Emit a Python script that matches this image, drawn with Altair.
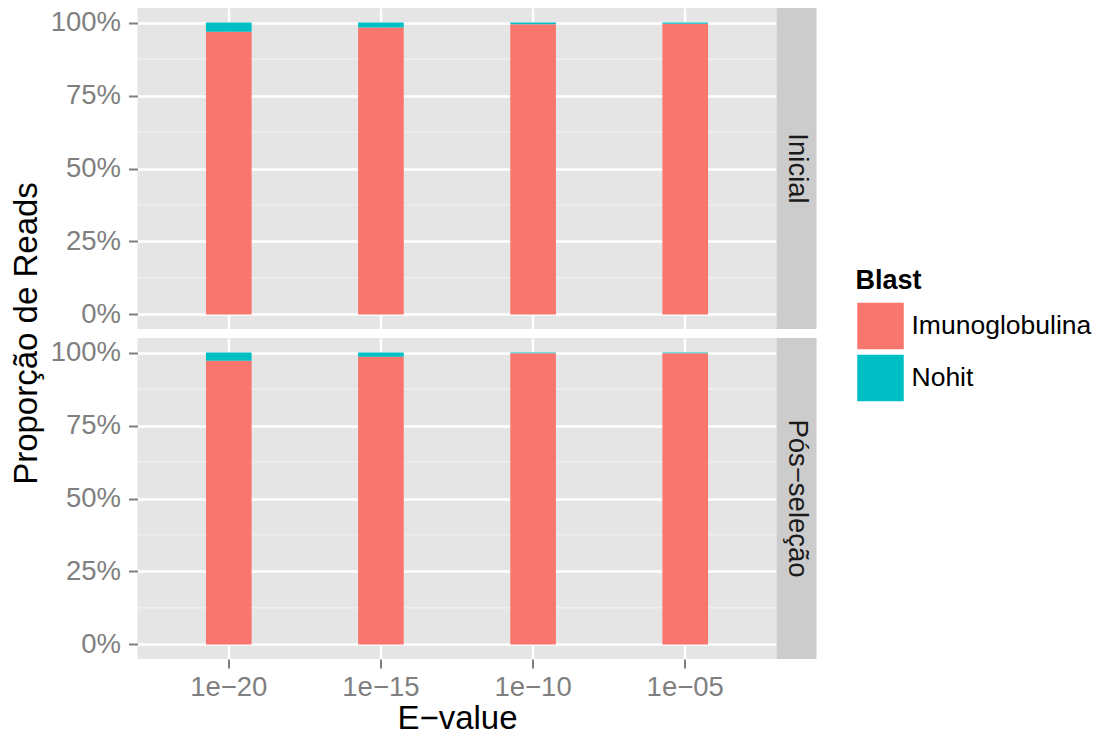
import altair as alt
import pandas as pd

FONT = "Liberation Sans"

evalues = ["1e\u221220", "1e\u221215", "1e\u221210", "1e\u221205"]
panels = ["Inicial", "P\u00f3s\u2212sele\u00e7\u00e3o"]
blast = ["Imunoglobulina", "Nohit"]
colors = ["#F8766D", "#00BFC4"]

imuno_inicial = [0.969, 0.983, 0.994, 0.996]
nohit_inicial = [0.031, 0.017, 0.006, 0.004]
imuno_pos = [0.972, 0.986, 0.998, 0.998]
nohit_pos = [0.028, 0.014, 0.002, 0.002]

y_ticks = [0, 0.25, 0.5, 0.75, 1.0]
y_minor = [0.125, 0.375, 0.625, 0.875]

W, H = 639, 321
STRIP_W = 40
LBL = 27.5
TTL = 33


def panel(name, imuno, nohit, bottom, with_ytitle):
    rows = []
    for e, a, b in zip(evalues, imuno, nohit):
        rows.append({"evalue": e, "blast": blast[0], "prop": a, "ord": 0})
        rows.append({"evalue": e, "blast": blast[1], "prop": b, "ord": 1})
    df = pd.DataFrame(rows)

    yscale = alt.Scale(domain=[-0.05, 1.05], nice=False, zero=False)
    yaxis = alt.Axis(values=y_ticks, format=".0%", title=None, grid=True,
                     labelPadding=8)
    xscale = alt.Scale(domain=evalues, paddingInner=0.7, paddingOuter=0.45)
    if bottom:
        xaxis = alt.Axis(title="E\u2212value", grid=True, bandPosition=0.5,
                         labelAngle=0, labelPadding=5, titlePadding=2,
                         titleFontSize=TTL, titleFont=FONT, titleColor="black",
                         titleFontWeight="normal")
    else:
        xaxis = alt.Axis(title=None, grid=True, bandPosition=0.5, labels=False,
                         ticks=False, domain=False)

    minor = alt.Chart(pd.DataFrame({"v": y_minor})).mark_rule(
        color="#F2F2F2", strokeWidth=1.2
    ).encode(y=alt.Y("v:Q", scale=yscale, axis=yaxis))

    bars = alt.Chart(df).mark_bar().encode(
        x=alt.X("evalue:N", sort=evalues, scale=xscale, axis=xaxis),
        y=alt.Y("prop:Q", stack="zero", scale=yscale, axis=yaxis),
        color=alt.Color("blast:N", scale=alt.Scale(domain=blast, range=colors),
                        legend=alt.Legend(title="Blast")),
        order=alt.Order("ord:Q", sort="ascending"),
    )

    strip_df = pd.DataFrame({"label": [name]})
    strip = alt.Chart(strip_df).mark_rect(color="#CCCCCC").encode(
        x=alt.value(W), x2=alt.value(W + STRIP_W),
        y=alt.value(0), y2=alt.value(H),
    )
    strip_text = alt.Chart(strip_df).mark_text(
        angle=90, fontSize=LBL, font=FONT, color="#1A1A1A",
        align="center", baseline="middle"
    ).encode(x=alt.value(W + STRIP_W / 2), y=alt.value(H / 2), text="label:N")

    layers = [minor, bars, strip, strip_text]
    if with_ytitle:
        ttl = alt.Chart(pd.DataFrame({"t": ["Propor\u00e7\u00e3o de Reads"]})).mark_text(
            angle=270, fontSize=TTL, font=FONT, color="black",
            align="center", baseline="middle"
        ).encode(x=alt.value(-111), y=alt.value(H + 4.5), text="t:N")
        layers.append(ttl)
    return alt.layer(*layers).properties(width=W, height=H)


top = panel(panels[0], imuno_inicial, nohit_inicial, False, True)
bot = panel(panels[1], imuno_pos, nohit_pos, True, False)

chart = alt.vconcat(top, bot, spacing=9, bounds="flush").properties(
    padding={"left": 2.5, "top": 0, "right": 0, "bottom": 0},
    background="white",
).configure_view(
    stroke=None, fill="#E5E5E5"
).configure_axis(
    labelFont=FONT, labelFontSize=LBL, labelColor="#7F7F7F",
    tickColor="#7F7F7F", tickSize=9, tickWidth=2,
    domain=False, gridColor="white", gridWidth=2.5, gridOpacity=1,
).configure_legend(
    orient="none", legendX=718, legendY=260,
    titleFont=FONT, titleFontSize=27, titleFontWeight="bold", titleColor="black",
    labelFont=FONT, labelFontSize=26.5, labelColor="black", labelLimit=400,
    symbolType="square", symbolSize=2304, symbolStrokeColor="white",
    symbolStrokeWidth=1.5, symbolOpacity=1, rowPadding=-8, labelOffset=6,
    titlePadding=6,
)

chart.save("out.html", embed_options={"renderer": "svg", "actions": False})
